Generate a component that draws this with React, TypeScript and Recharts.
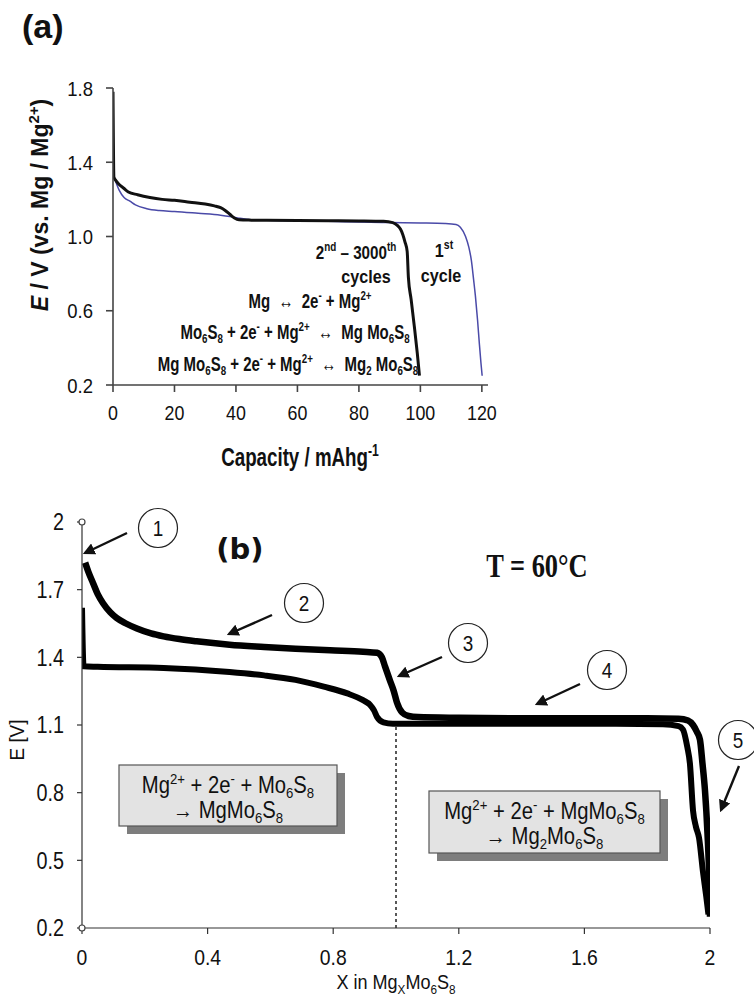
import React from 'react';
import { LineChart, Line, XAxis, YAxis, ReferenceLine, ReferenceDot } from 'recharts';

// panel (a) - potential vs capacity
const capTicks = [0, 20, 40, 60, 80, 100, 120];
const potTicksA = [0.2, 0.6, 1.0, 1.4, 1.8];

// 2nd - 3000th cycles (black)
const cyclesCap = [0, 0.3, 1, 2, 3.5, 5, 8, 12, 16, 20, 25, 30, 33, 35, 36.5, 38, 39.5, 41, 45, 50, 60, 70, 80, 88, 91, 92.5, 93.5, 94.3, 95, 95.7, 96.1, 97, 98, 99, 99.7];
const cyclesE = [1.78, 1.32, 1.3, 1.28, 1.26, 1.24, 1.225, 1.21, 1.2, 1.195, 1.185, 1.175, 1.165, 1.155, 1.14, 1.12, 1.1, 1.09, 1.088, 1.087, 1.086, 1.085, 1.084, 1.082, 1.075, 1.06, 1.04, 1.01, 0.97, 0.92, 0.78, 0.66, 0.52, 0.37, 0.25];

// 1st cycle (blue)
const firstCap = [0.3, 1, 2, 3.6, 5.5, 7.3, 11, 15, 20, 27.7, 35, 38, 40.6, 45, 50, 60, 70, 80, 90, 100, 108, 111.6, 113, 114.7, 115.8, 116.6, 117.3, 117.9, 118.6, 119.2, 119.7, 120.1];
const firstE = [1.32, 1.29, 1.25, 1.21, 1.19, 1.17, 1.15, 1.14, 1.135, 1.125, 1.115, 1.108, 1.1, 1.09, 1.088, 1.085, 1.082, 1.078, 1.075, 1.073, 1.07, 1.065, 1.05, 1.0, 0.94, 0.87, 0.77, 0.68, 0.55, 0.42, 0.32, 0.25];

// panel (b) - E vs x in MgxMo6S8
const xTicksB = [0, 0.4, 0.8, 1.2, 1.6, 2];
const eTicksB = [0.2, 0.5, 0.8, 1.1, 1.4, 1.7, 2];

const upperX = [0.01, 0.02, 0.035, 0.05, 0.067, 0.09, 0.11, 0.14, 0.175, 0.22, 0.26, 0.31, 0.365, 0.47, 0.58, 0.68, 0.79, 0.895, 0.94, 0.955, 0.965, 0.98, 0.993, 1.003, 1.02, 1.04, 1.07, 1.2, 1.4, 1.6, 1.8, 1.9, 1.93, 1.946, 1.958, 1.968, 1.976, 1.984, 1.992, 1.997, 2.0];
const upperE = [1.82, 1.78, 1.73, 1.68, 1.64, 1.6, 1.575, 1.55, 1.528, 1.506, 1.493, 1.481, 1.471, 1.456, 1.446, 1.438, 1.431, 1.425, 1.42, 1.4, 1.36, 1.3, 1.25, 1.2, 1.155, 1.14, 1.135, 1.132, 1.13, 1.13, 1.13, 1.128, 1.12, 1.1, 1.07, 1.035, 0.93, 0.81, 0.62, 0.445, 0.25];

const lowerX = [0, 0.005, 0.05, 0.26, 0.47, 0.58, 0.68, 0.77, 0.845, 0.895, 0.917, 0.93, 0.94, 0.96, 0.99, 1.1, 1.3, 1.5, 1.7, 1.85, 1.9, 1.914, 1.928, 1.936, 1.946, 1.955, 1.965, 1.978, 1.988, 1.995];
const lowerE = [1.62, 1.36, 1.358, 1.353, 1.335, 1.32, 1.3, 1.27, 1.24, 1.21, 1.19, 1.165, 1.135, 1.112, 1.106, 1.105, 1.105, 1.105, 1.105, 1.103, 1.095, 1.08, 1.0, 0.93, 0.72, 0.65, 0.6, 0.445, 0.34, 0.26];

const zip = (xs: number[], ys: number[]) => xs.map((x, i) => ({ x, e: ys[i] }));

const SANS = "'Liberation Sans', Arial, sans-serif";

type Seg = { t: string; s?: 'sup' | 'sub'; i?: boolean };

// text with super/subscripts, optionally squeezed horizontally or rotated
function Rich({ x, y, segs, size, anchor = 'middle', bold = false, sx = 1, rot = 0, family = SANS, fill = '#111' }:
  { x: number; y: number; segs: Seg[]; size: number; anchor?: string; bold?: boolean; sx?: number; rot?: number; family?: string; fill?: string }) {
  let shift = 0;
  const spans = segs.map((g, k) => {
    const target = g.s === 'sup' ? -0.4 * size : g.s === 'sub' ? 0.22 * size : 0;
    const dy = target - shift;
    shift = target;
    return (
      <tspan key={k} dy={dy} fontSize={g.s ? size * 0.65 : size} fontStyle={g.i ? 'italic' : undefined}>{g.t}</tspan>
    );
  });
  return (
    <text
      transform={`translate(${x},${y}) rotate(${rot}) scale(${sx},1)`}
      textAnchor={anchor}
      fontFamily={family}
      fontSize={size}
      fontWeight={bold ? 'bold' : 'normal'}
      fill={fill}
      style={{ whiteSpace: 'pre' }}
    >
      {spans}
    </text>
  );
}

const makeTick = (anchor: string, dy: string, size: number, sx: number) => (props: any) => {
  const { x, y, payload, tickFormatter } = props;
  const label = tickFormatter ? tickFormatter(payload.value) : String(payload.value);
  return (
    <text transform={`translate(${x},${y}) scale(${sx},1)`} textAnchor={anchor} dy={dy} fontFamily={SANS} fontSize={size} fill="#111">
      {label}
    </text>
  );
};

const TickAX = makeTick('middle', '0.72em', 21, 0.85);
const TickAY = makeTick('end', '0.36em', 21, 0.88);
const TickBX = makeTick('middle', '0.72em', 22, 0.88);
const TickBY = makeTick('end', '0.36em', 23, 0.86);

function Bubble({ cx, cy, n }: { cx: number; cy: number; n: string }) {
  return (
    <g>
      <circle cx={cx} cy={cy} r={19.5} fill="#fff" stroke="#222" strokeWidth={1.2} />
      <text transform={`translate(${cx},${cy}) scale(0.86,1)`} textAnchor="middle" dy="0.36em" fontFamily={SANS} fontSize={22} fill="#111">{n}</text>
    </g>
  );
}

function Arrow({ x1, y1, x2, y2 }: { x1: number; y1: number; x2: number; y2: number }) {
  return <line x1={x1} y1={y1} x2={x2} y2={y2} stroke="#111" strokeWidth={2.4} markerEnd="url(#arrowHead)" />;
}

function Box({ x, y, w, h, l1, l2 }: { x: number; y: number; w: number; h: number; l1: Seg[]; l2: Seg[] }) {
  const cx = x + w / 2;
  return (
    <g>
      <rect x={x + 8} y={y + 8} width={w} height={h} fill="#7d7d7d" />
      <rect x={x} y={y} width={w} height={h} fill="#e3e3e3" stroke="#555" strokeWidth={1.2} />
      <Rich x={cx} y={y + 28} segs={l1} size={23} sx={0.88} />
      <Rich x={cx} y={y + 53} segs={l2} size={23} sx={0.88} />
    </g>
  );
}

export default function App() {
  const cycles = zip(cyclesCap, cyclesE);
  const first = zip(firstCap, firstE);
  const upper = zip(upperX, upperE);
  const lower = zip(lowerX, lowerE);

  return (
    <div style={{ position: 'absolute', left: 0, top: 0, width: 754, height: 997, background: '#fff' }}>
      <div style={{ position: 'absolute', left: 0, top: 0 }}>
        <LineChart width={754} height={480} margin={{ top: 88, right: 266, left: 43, bottom: 55 }}>
          <XAxis
            type="number"
            dataKey="x"
            domain={[0, 122]}
            ticks={capTicks}
            allowDataOverflow
            height={40}
            tickSize={7}
            tickMargin={13}
            axisLine={{ stroke: '#444', strokeWidth: 1.6 }}
            tickLine={{ stroke: '#444', strokeWidth: 1.6 }}
            tick={TickAX}
          />
          <YAxis
            type="number"
            domain={[0.2, 1.8]}
            ticks={potTicksA}
            allowDataOverflow
            width={70}
            tickSize={7}
            tickMargin={13}
            tickFormatter={(v: number) => v.toFixed(1)}
            axisLine={{ stroke: '#444', strokeWidth: 1.6 }}
            tickLine={{ stroke: '#444', strokeWidth: 1.6 }}
            tick={TickAY}
          />
          <Line data={first} dataKey="e" type="monotone" stroke="#4a4aa8" strokeWidth={1.5} dot={false} isAnimationActive={false} />
          <Line data={cycles} dataKey="e" type="monotone" stroke="#111" strokeWidth={3} dot={false} isAnimationActive={false} />
        </LineChart>
      </div>

      <div style={{ position: 'absolute', left: 0, top: 480 }}>
        <LineChart width={754} height={517} margin={{ top: 42, right: 44, left: 22, bottom: 29 }}>
          <XAxis
            type="number"
            dataKey="x"
            domain={[0, 2]}
            ticks={xTicksB}
            allowDataOverflow
            height={40}
            tickSize={6}
            tickMargin={15}
            axisLine={{ stroke: '#333', strokeWidth: 1.2 }}
            tickLine={{ stroke: '#333', strokeWidth: 1.2 }}
            tick={TickBX}
          />
          <YAxis
            type="number"
            domain={[0.2, 2]}
            ticks={eTicksB}
            allowDataOverflow
            width={60}
            tickSize={5}
            tickMargin={13}
            axisLine={{ stroke: '#333', strokeWidth: 1.2 }}
            tickLine={{ stroke: '#333', strokeWidth: 1.2 }}
            tick={TickBY}
          />
          <ReferenceLine segment={[{ x: 1, y: 0.2 }, { x: 1, y: 1.1 }]} stroke="#222" strokeWidth={1.5} strokeDasharray="3 3" />
          <Line data={lower} dataKey="e" type="monotone" stroke="#000" strokeWidth={6} strokeLinejoin="round" dot={false} isAnimationActive={false} />
          <Line data={upper} dataKey="e" type="monotone" stroke="#000" strokeWidth={6.5} strokeLinejoin="round" dot={false} isAnimationActive={false} />
          <ReferenceDot x={0} y={2} r={3} fill="#fff" stroke="#444" strokeWidth={1.2} />
          <ReferenceDot x={0} y={0.2} r={3} fill="#fff" stroke="#444" strokeWidth={1.2} />
        </LineChart>
      </div>

      <svg width={754} height={997} style={{ position: 'absolute', left: 0, top: 0, pointerEvents: 'none' }}>
        <defs>
          <marker id="arrowHead" viewBox="0 0 10 10" refX="8" refY="5" markerWidth="5" markerHeight="5" orient="auto">
            <path d="M0,0 L10,5 L0,10 z" fill="#111" />
          </marker>
        </defs>

        {/* panel (a) labels */}
        <Rich x={22} y={38} segs={[{ t: '(a)' }]} size={34} anchor="start" bold />
        <Rich x={48} y={205} rot={-90} segs={[{ t: 'E', i: true }, { t: ' / V (vs. Mg / Mg' }, { t: '2+', s: 'sup' }, { t: ')' }]} size={23} bold />
        <Rich x={300} y={466} segs={[{ t: 'Capacity / mAhg' }, { t: '-1', s: 'sup' }]} size={25} bold sx={0.75} />

        <Rich x={356} y={259} segs={[{ t: '2' }, { t: 'nd', s: 'sup' }, { t: ' – 3000' }, { t: 'th', s: 'sup' }]} size={19} bold sx={0.8} />
        <Rich x={366} y={283} segs={[{ t: 'cycles' }]} size={19} bold sx={0.85} />
        <Rich x={444} y={257} segs={[{ t: '1' }, { t: 'st', s: 'sup' }]} size={19} bold sx={0.85} />
        <Rich x={441} y={282} segs={[{ t: 'cycle' }]} size={19} bold sx={0.85} />

        <Rich x={310} y={308} segs={[{ t: 'Mg \u00a0↔\u00a0 2e' }, { t: '-', s: 'sup' }, { t: ' + Mg' }, { t: '2+', s: 'sup' }]} size={20} bold sx={0.75} />
        <Rich x={295} y={339} segs={[{ t: 'Mo' }, { t: '6', s: 'sub' }, { t: 'S' }, { t: '8', s: 'sub' }, { t: ' + 2e' }, { t: '-', s: 'sup' }, { t: ' + Mg' }, { t: '2+', s: 'sup' }, { t: ' \u00a0↔\u00a0 Mg Mo' }, { t: '6', s: 'sub' }, { t: 'S' }, { t: '8', s: 'sub' }]} size={20} bold sx={0.75} />
        <Rich x={288} y={371} segs={[{ t: 'Mg Mo' }, { t: '6', s: 'sub' }, { t: 'S' }, { t: '8', s: 'sub' }, { t: ' + 2e' }, { t: '-', s: 'sup' }, { t: ' + Mg' }, { t: '2+', s: 'sup' }, { t: ' \u00a0↔\u00a0 Mg' }, { t: '2', s: 'sub' }, { t: ' Mo' }, { t: '6', s: 'sub' }, { t: 'S' }, { t: '8', s: 'sub' }]} size={20} bold sx={0.75} />

        {/* panel (b) labels */}
        <Rich x={240} y={559} segs={[{ t: '(b)' }]} size={29} bold family="'DejaVu Sans', sans-serif" />
        <Rich x={537} y={577} segs={[{ t: 'T = 60°C' }]} size={33} bold sx={0.8} family="'Liberation Serif', 'Times New Roman', serif" />
        <Rich x={24} y={740} rot={-90} segs={[{ t: 'E [V]' }]} size={21} sx={0.9} />
        <Rich x={396} y={989} segs={[{ t: 'X in Mg' }, { t: 'X', s: 'sub' }, { t: 'Mo' }, { t: '6', s: 'sub' }, { t: 'S' }, { t: '8', s: 'sub' }]} size={21} sx={0.86} />

        <Bubble cx={158} cy={528} n="1" />
        <Arrow x1={127} y1={533} x2={85} y2={553} />
        <Bubble cx={304} cy={603} n="2" />
        <Arrow x1={272} y1={615} x2={229} y2={634} />
        <Bubble cx={468} cy={643} n="3" />
        <Arrow x1={442} y1={657} x2={399} y2={676} />
        <Bubble cx={607} cy={670} n="4" />
        <Arrow x1={580} y1={684} x2={537} y2={704} />
        <Bubble cx={738} cy={740} n="5" />
        <Arrow x1={739} y1={766} x2={721} y2={810} />

        <Box x={119} y={765} w={218} h={61}
          l1={[{ t: 'Mg' }, { t: '2+', s: 'sup' }, { t: ' + 2e' }, { t: '-', s: 'sup' }, { t: ' + Mo' }, { t: '6', s: 'sub' }, { t: 'S' }, { t: '8', s: 'sub' }]}
          l2={[{ t: '→ MgMo' }, { t: '6', s: 'sub' }, { t: 'S' }, { t: '8', s: 'sub' }]} />
        <Box x={429} y={791} w={231} h={62}
          l1={[{ t: 'Mg' }, { t: '2+', s: 'sup' }, { t: ' + 2e' }, { t: '-', s: 'sup' }, { t: ' + MgMo' }, { t: '6', s: 'sub' }, { t: 'S' }, { t: '8', s: 'sub' }]}
          l2={[{ t: '→ Mg' }, { t: '2', s: 'sub' }, { t: 'Mo' }, { t: '6', s: 'sub' }, { t: 'S' }, { t: '8', s: 'sub' }]} />
      </svg>
    </div>
  );
}
